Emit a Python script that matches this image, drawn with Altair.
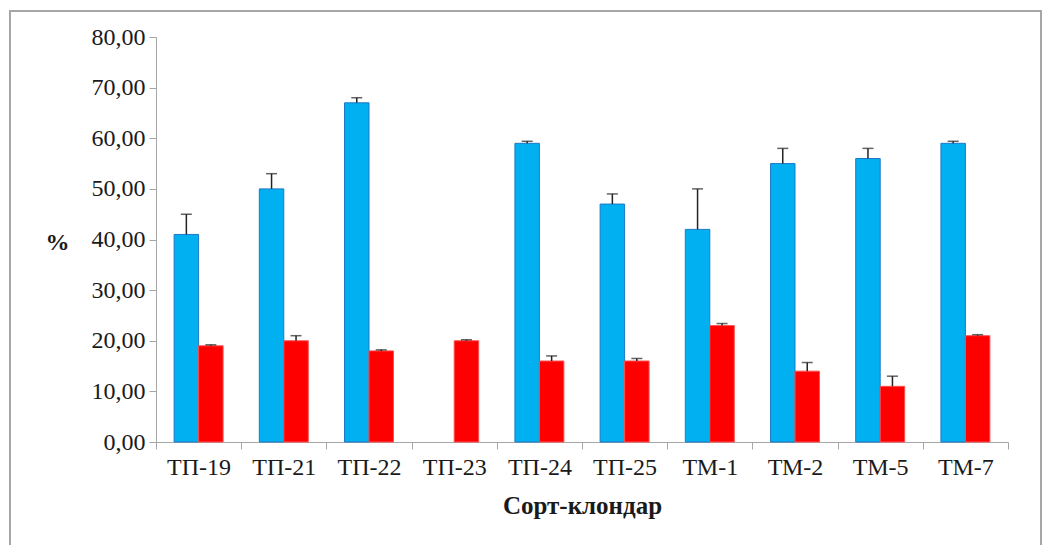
import altair as alt
import pandas as pd

categories = ["ТП-19", "ТП-21", "ТП-22", "ТП-23", "ТП-24", "ТП-25", "ТМ-1", "ТМ-2", "ТМ-5", "ТМ-7"]
blue_values = [41, 50, 67, 0, 59, 47, 42, 55, 56, 59]
blue_errors = [4, 3, 1, 0, 0.4, 2, 8, 3, 2, 0.4]
red_values = [19, 20, 18, 20, 16, 16, 23, 14, 11, 21]
red_errors = [0.2, 1, 0.2, 0.2, 1, 0.5, 0.4, 1.7, 2, 0.2]
series_names = ["A", "B"]

rows = []
for c, bv, be, rv, re in zip(categories, blue_values, blue_errors, red_values, red_errors):
    rows.append({"cat": c, "series": "A", "value": bv, "err": be, "top": bv + be})
    rows.append({"cat": c, "series": "B", "value": rv, "err": re, "top": rv + re})
df = pd.DataFrame(rows)

FONT = "Liberation Serif"

x_enc = alt.X("cat:N", sort=categories,
              scale=alt.Scale(domain=categories, paddingInner=0, paddingOuter=0),
              axis=alt.Axis(title="Сорт-клондар", labelAngle=0, tickBand="extent",
                            domainColor="#A6A6A6", tickColor="#A6A6A6", tickSize=7,
                            labelFont=FONT, labelFontSize=24, labelColor="#1a1a1a",
                            labelPadding=6,
                            titleFont=FONT, titleFontSize=25, titleFontWeight="bold",
                            titleColor="#1a1a1a", titlePadding=14))
xoff = alt.XOffset("series:N", sort=series_names,
                   scale=alt.Scale(domain=series_names, paddingOuter=0.74, paddingInner=0))
y_scale = alt.Scale(domain=[0, 80], nice=False)

bars = alt.Chart(df[df["value"] > 0]).mark_bar(strokeWidth=1).encode(
    x=x_enc,
    xOffset=xoff,
    y=alt.Y("value:Q", scale=y_scale,
            axis=alt.Axis(title="%", titleAngle=0, titleX=-111, titleY=205,
                          titleFont=FONT, titleFontSize=24, titleFontWeight="bold",
                          titleColor="#1a1a1a", titleAlign="left", titleBaseline="middle",
                          values=[0, 10, 20, 30, 40, 50, 60, 70, 80],
                          labelExpr="replace(format(datum.value, '.2f'), '.', ',')",
                          labelFont=FONT, labelFontSize=24, labelColor="#1a1a1a",
                          labelPadding=4, tickSize=7, grid=False,
                          domainColor="#A6A6A6", tickColor="#A6A6A6")),
    color=alt.Color("series:N", scale=alt.Scale(domain=series_names, range=["#00B0F0", "#FF0000"]), legend=None),
    stroke=alt.Stroke("series:N", scale=alt.Scale(domain=series_names, range=["#1E78C8", "#FF5050"]), legend=None),
)

err_df = df[df["err"] > 0]
rules = alt.Chart(err_df).mark_rule(color="#222222", strokeWidth=1.5).encode(
    x=alt.X("cat:N", sort=categories),
    xOffset=xoff,
    y=alt.Y("value:Q", scale=y_scale),
    y2="top:Q",
)
caps = alt.Chart(err_df).mark_tick(color="#222222", thickness=1.5, size=11, orient="horizontal").encode(
    x=alt.X("cat:N", sort=categories),
    xOffset=xoff,
    y=alt.Y("top:Q", scale=y_scale),
)

frame = alt.Chart(pd.DataFrame({"a": [0]})).mark_rect(fill=None, stroke="#A6A6A6", strokeWidth=2).encode(
    x=alt.value(-146), x2=alt.value(885), y=alt.value(-26), y2=alt.value(530)
)

chart = alt.layer(frame, bars, rules, caps).properties(
    width=852, height=405,
    padding={"left": 156, "top": 37, "right": 41, "bottom": 103},
    autosize=alt.AutoSizeParams(type="none"),
    background="white",
).configure_view(stroke=None)

chart.save("out.html", embed_options={"renderer": "svg", "actions": False})
